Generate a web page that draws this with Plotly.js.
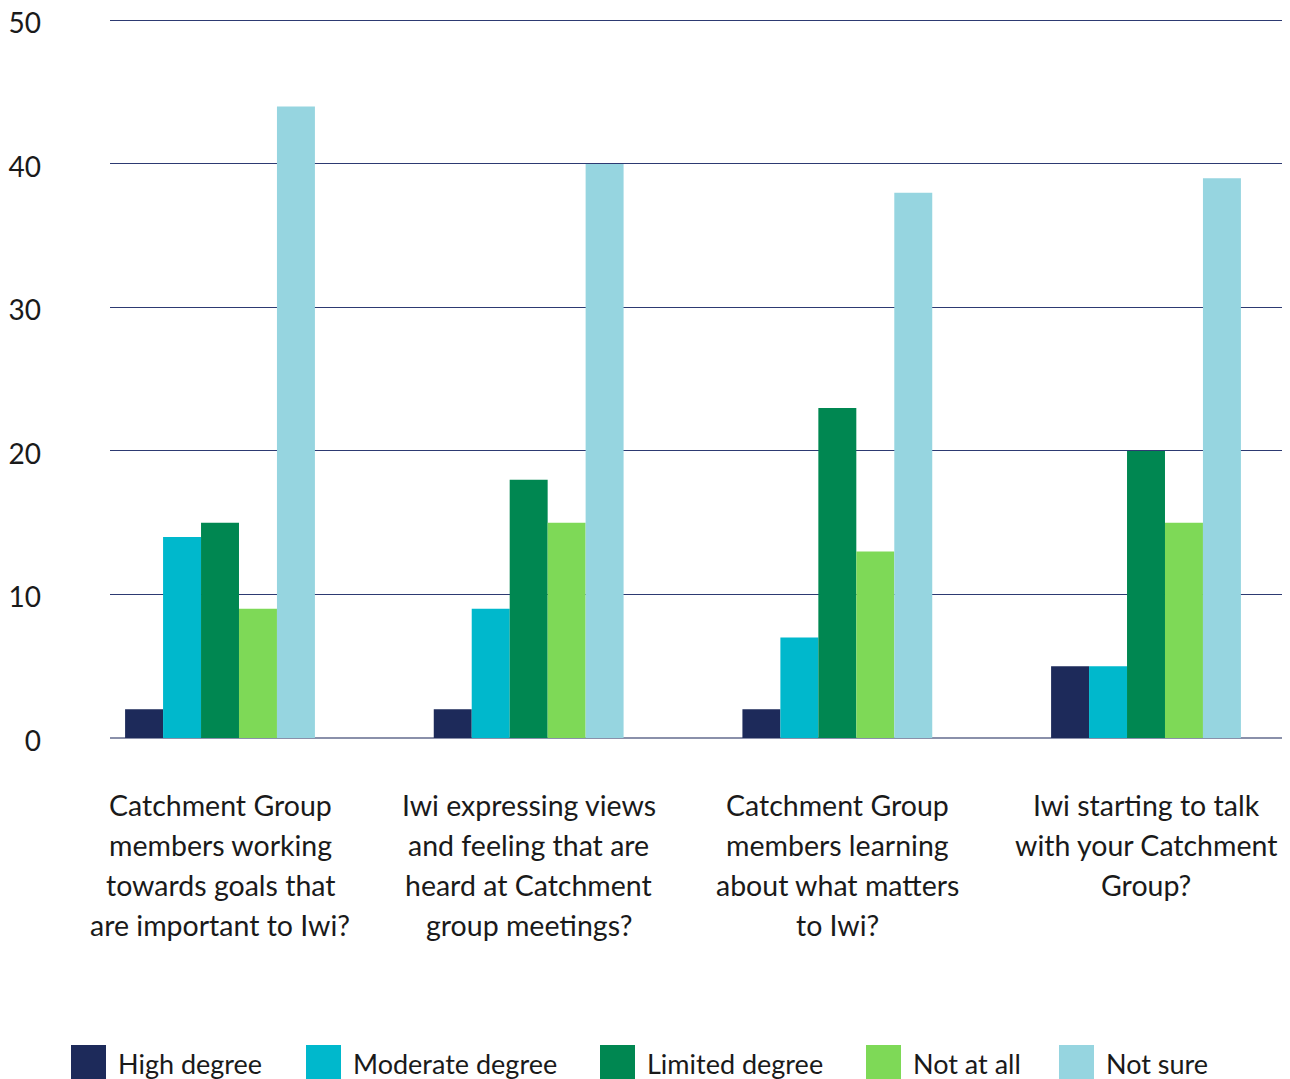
<!DOCTYPE html>
<html>
<head>
<meta charset="utf-8">
<script src="https://cdn.plot.ly/plotly-3.0.1.min.js"></script>
<style>
  html, body { margin: 0; padding: 0; background: #ffffff; }
  #chart { width: 1290px; height: 1079px; }
</style>
</head>
<body>
<div id="chart"></div>
<script>
// ---- Data ----
const categories = [
  "Catchment Group<br>members working<br>towards goals that<br>are important to Iwi?",
  "Iwi expressing views<br>and feeling that are<br>heard at Catchment<br>group meetings?",
  "Catchment Group<br>members learning<br>about what matters<br>to Iwi?",
  "Iwi starting to talk<br>with your Catchment<br>Group?"
];
const seriesNames = ["High degree", "Moderate degree", "Limited degree", "Not at all", "Not sure"];
const highDegree     = [2, 2, 2, 5];
const moderateDegree = [14, 9, 7, 5];
const limitedDegree  = [15, 18, 23, 20];
const notAtAll       = [9, 15, 13, 15];
const notSure        = [44, 40, 38, 39];
const yTicks = [0, 10, 20, 30, 40, 50];

// ---- Styles ----
const colors = ["#1d2a5a", "#00b8cc", "#008751", "#7ed957", "#96d5e0"];
const seriesValues = [highDegree, moderateDegree, limitedDegree, notAtAll, notSure];
const FONT = "Lato, 'Open Sans', sans-serif";
const TEXT = "#1a1a1a";

const W = 1290, H = 1079;
const YMAX = 50.1;
const M = { l: 110, r: 8, t: 19, b: 341 };
const plotW = W - M.l - M.r, plotH = H - M.t - M.b;
const px2x = p => (p - M.l) / plotW;
const py2y = p => (H - M.b - p) / plotH;

const traces = seriesNames.map((name, i) => ({
  type: "bar",
  name: name,
  x: categories.map((c, k) => k),
  y: seriesValues[i],
  marker: { color: colors[i], line: { width: 0 } },
  hoverinfo: "skip",
  showlegend: false
}));

// Category labels: one annotation per line for 40px line spacing
const annotations = [];
categories.forEach((cat, k) => {
  cat.split("<br>").forEach((line, j) => {
    annotations.push({
      x: k, xref: "x", y: 0, yref: "paper",
      yanchor: "middle", xanchor: "center",
      yshift: -67 - 40 * j,
      text: line, showarrow: false,
      font: { family: FONT, size: 28.5, color: TEXT }
    });
  });
});

// Custom legend (large squares)
const legendX = [71, 306, 600, 866, 1059];
const shapes = [];
seriesNames.forEach((name, i) => {
  shapes.push({
    type: "rect", xref: "paper", yref: "paper",
    x0: px2x(legendX[i]), x1: px2x(legendX[i] + 35),
    y0: py2y(1080), y1: py2y(1045),
    fillcolor: colors[i], line: { width: 0 }
  });
  annotations.push({
    x: px2x(legendX[i] + 45), xref: "paper", xanchor: "left",
    y: py2y(1063), yref: "paper", yanchor: "middle",
    text: name, showarrow: false,
    font: { family: FONT, size: 27, color: TEXT }
  });
});

const layout = {
  width: W, height: H,
  margin: M,
  paper_bgcolor: "#ffffff",
  plot_bgcolor: "#ffffff",
  font: { family: FONT, size: 28, color: TEXT },
  barmode: "group",
  bargap: 0.385,
  bargroupgap: 0,
  showlegend: false,
  xaxis: {
    type: "linear",
    range: [-0.3564, 3.4406],
    showticklabels: false,
    showgrid: false,
    zeroline: false,
    showline: false,
    ticks: ""
  },
  yaxis: {
    range: [0, YMAX],
    tickvals: yTicks,
    ticktext: yTicks.map(String),
    showgrid: true,
    gridcolor: "#2d3a72",
    gridwidth: 1,
    zeroline: true,
    zerolinecolor: "#8a90aa",
    zerolinewidth: 2,
    showline: false,
    ticks: "",
    ticklabelstandoff: 68,
    ticklabelshift: 3,
    tickfont: { family: FONT, size: 28, color: TEXT }
  },
  shapes: shapes,
  annotations: annotations
};

Plotly.newPlot("chart", traces, layout, { staticPlot: true, displayModeBar: false });
</script>
</body>
</html>
